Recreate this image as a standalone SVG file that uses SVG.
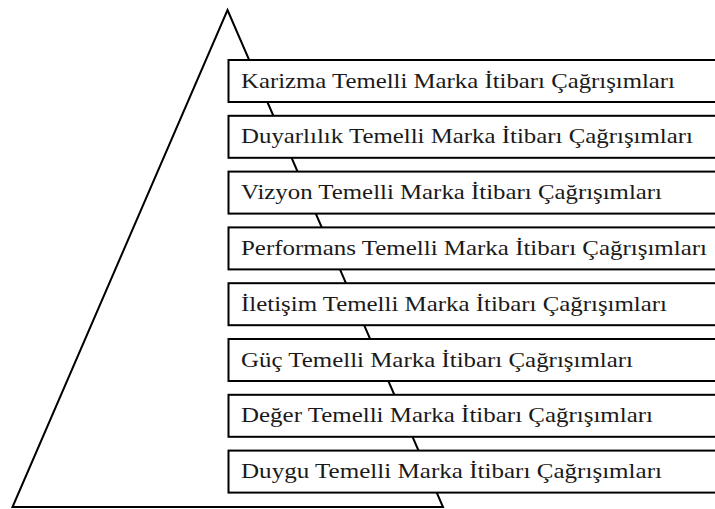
<svg xmlns="http://www.w3.org/2000/svg" width="715" height="509" viewBox="0 0 715 509">
<style>
.tri{fill:none;stroke:#000;stroke-width:2;stroke-linejoin:miter}
.box{fill:#fff;stroke:#000;stroke-width:2}
.lbl{font-family:"Liberation Serif","Times New Roman",serif;font-size:21px;fill:#1a1a1a}
</style>
<rect width="715" height="509" fill="#fff"/>
<g id="pyramid"><polygon class="tri" points="227.5,10 443,507 12.5,507"/></g>
<g id="connectors"></g>
<g id="n1"><rect class="box" x="228.5" y="60" width="500" height="42"/><text class="lbl" x="241" y="87.5" textLength="434" lengthAdjust="spacingAndGlyphs">Karizma Temelli Marka İtibarı Çağrışımları</text></g>
<g id="n2"><rect class="box" x="228.5" y="115.8" width="500" height="42"/><text class="lbl" x="241" y="143.3" textLength="452" lengthAdjust="spacingAndGlyphs">Duyarlılık Temelli Marka İtibarı Çağrışımları</text></g>
<g id="n3"><rect class="box" x="228.5" y="171.6" width="500" height="42"/><text class="lbl" x="241" y="199.1" textLength="421" lengthAdjust="spacingAndGlyphs">Vizyon Temelli Marka İtibarı Çağrışımları</text></g>
<g id="n4"><rect class="box" x="228.5" y="227.4" width="500" height="42"/><text class="lbl" x="241" y="254.9" textLength="466" lengthAdjust="spacingAndGlyphs">Performans Temelli Marka İtibarı Çağrışımları</text></g>
<g id="n5"><rect class="box" x="228.5" y="283.2" width="500" height="42"/><text class="lbl" x="241" y="310.7" textLength="426" lengthAdjust="spacingAndGlyphs">İletişim Temelli Marka İtibarı Çağrışımları</text></g>
<g id="n6"><rect class="box" x="228.5" y="339" width="500" height="42"/><text class="lbl" x="241" y="366.5" textLength="392" lengthAdjust="spacingAndGlyphs">Güç Temelli Marka İtibarı Çağrışımları</text></g>
<g id="n7"><rect class="box" x="228.5" y="394.8" width="500" height="42"/><text class="lbl" x="241" y="422.3" textLength="412" lengthAdjust="spacingAndGlyphs">Değer Temelli Marka İtibarı Çağrışımları</text></g>
<g id="n8"><rect class="box" x="228.5" y="450.6" width="500" height="42"/><text class="lbl" x="241" y="478.1" textLength="421" lengthAdjust="spacingAndGlyphs">Duygu Temelli Marka İtibarı Çağrışımları</text></g>
</svg>
